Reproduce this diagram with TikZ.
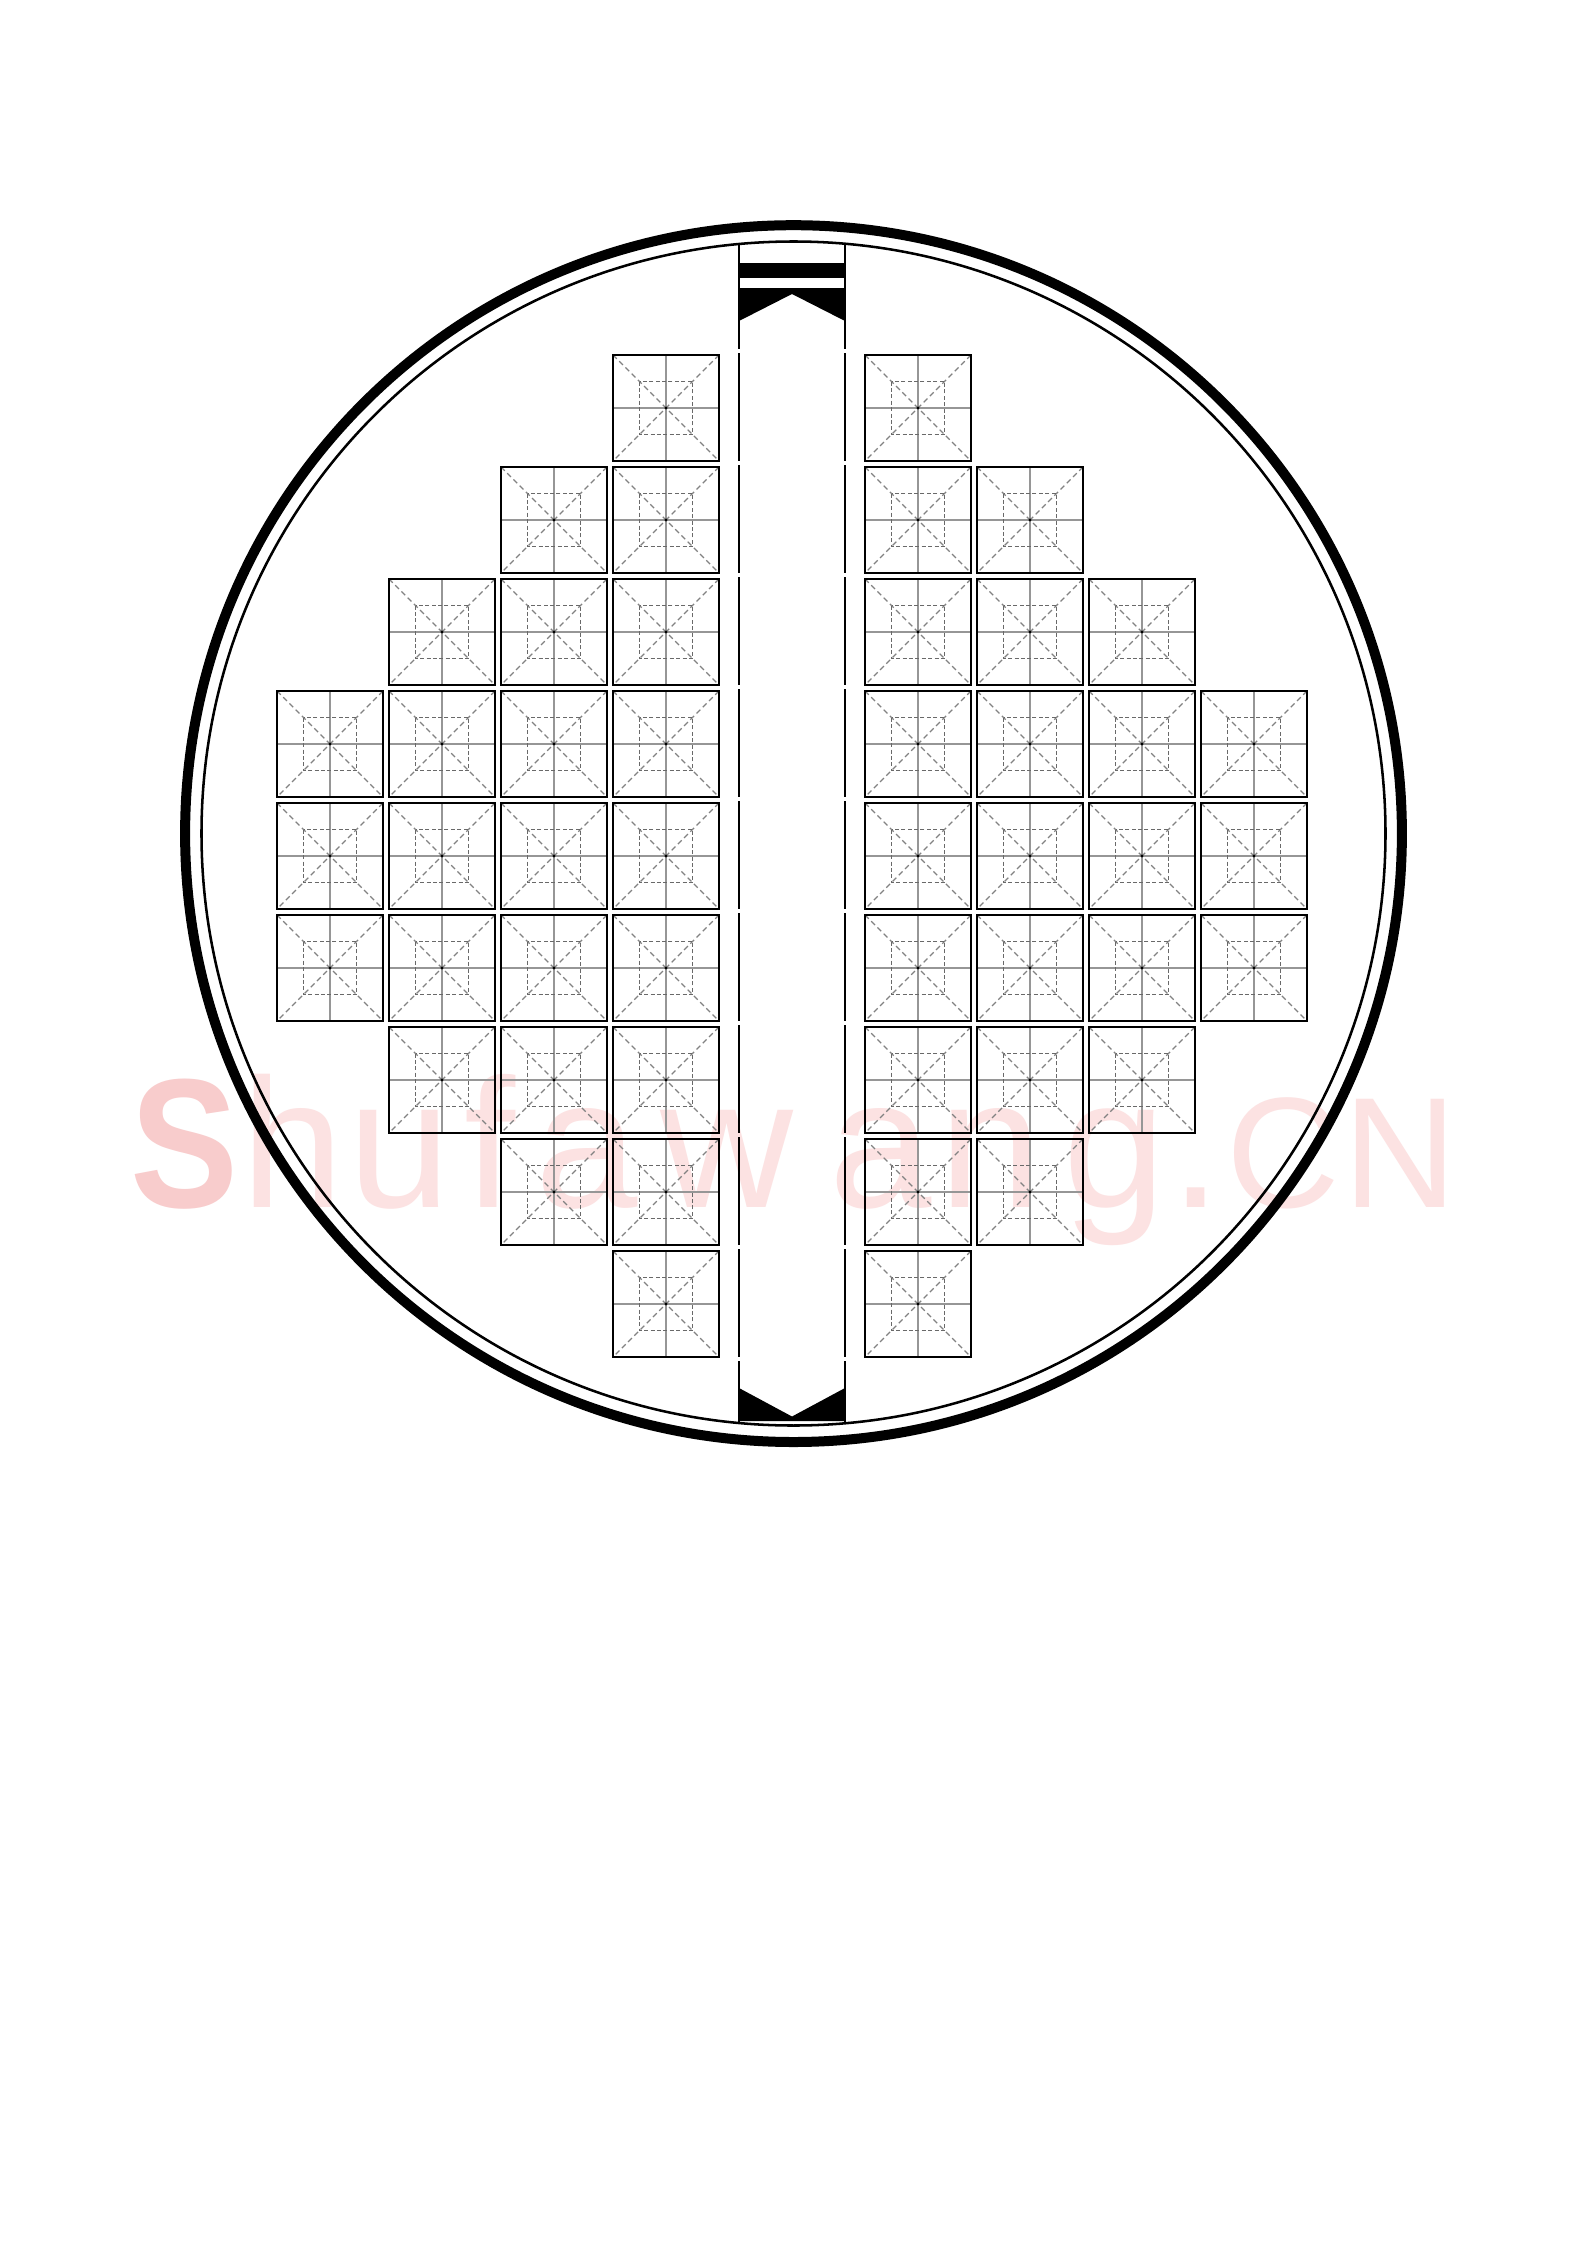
\documentclass[tikz,border=0pt]{standalone}
\usepackage{fontspec}
\usepackage{graphicx}
\newfontfamily\wmfont{Liberation Sans}
\definecolor{wmS}{RGB}{248,204,204}
\definecolor{wmP}{RGB}{252,226,226}
\definecolor{crossgray}{RGB}{150,150,150}
\definecolor{diaggray}{RGB}{130,130,130}
\definecolor{innergray}{RGB}{105,105,105}
\begin{document}
\begin{tikzpicture}[x=0.375pt,y=-0.375pt,
  cellframe/.style={line width=0.75pt,black},
  crossline/.style={line width=0.45pt,crossgray},
  diagline/.style={line width=0.45pt,diaggray,dash pattern=on 2pt off 1.3pt},
  innerline/.style={line width=0.45pt,innergray,dash pattern=on 1.5pt off 0.9pt},
  stripline/.style={line width=0.75pt,black},
  wmletter/.style={inner sep=0pt,anchor=base,font=\wmfont\fontsize{69}{69}\selectfont,text=wmP},
  wmsmall/.style={wmletter,font=\wmfont\fontsize{59}{59}\selectfont},
  mizi/.pic={
    \draw[crossline] (53,0) -- (53,106) (0,53) -- (106,53);
    \draw[diagline] (0,0) -- (106,106) (106,0) -- (0,106);
    \draw[innerline] (26.5,26.5) rectangle (79.5,79.5);
    \fill (53,53) circle[radius=0.6pt];
    \draw[cellframe] (0,0) rectangle (106,106);
  }]
\useasboundingbox (0,0) rectangle (1587,2245);
\fill[white] (0,0) rectangle (1587,2245);
% watermark
\node[wmletter,text=wmS,font=\wmfont\bfseries\fontsize{69}{69}\selectfont] (w1) at (184,1207) {\scalebox{0.88}[1]{S}};
\node[wmletter] (w2) at (293,1207) {h};
\node[wmletter] (w3) at (400,1207) {u};
\node[wmletter] (w4) at (490,1207) {f};
\node[wmletter] (w5) at (587,1207) {a};
\node[wmletter] (w6) at (727,1207) {w};
\node[wmletter] (w7) at (881,1207) {a};
\node[wmletter] (w8) at (991,1207) {n};
\node[wmletter] (w9) at (1115,1207) {g};
\node[wmletter] (w10) at (1196,1207) {.};
\node[wmsmall] (w11) at (1283,1207) {C};
\node[wmsmall] (w12) at (1400,1207) {N};
% circles
\draw[line width=3.75pt] (793.5,833.6) circle[radius=228.15pt];
\draw[line width=0.95pt] (793.5,833.5) circle[radius=222pt];
% central strip
\foreach \xx in {739,845} {
  \draw[stripline] (\xx,244) -- (\xx,349);
  \foreach \kk in {0,...,8} {
    \draw[stripline] (\xx,{353+112*\kk}) -- (\xx,{461+112*\kk});
  }
  \draw[stripline] (\xx,1361) -- (\xx,1423);
}
\fill (739,262.5) rectangle (845,277.5);
\fill (739,288) -- (845,288) -- (845,321) -- (792,294) -- (739,321) -- cycle;
\fill (739,1388) -- (792,1416.5) -- (845,1388) -- (845,1421) -- (739,1421) -- cycle;
% cells
\foreach \rr/\nn in {0/1,1/2,2/3,3/4,4/4,5/4,6/3,7/2,8/1} {
  \foreach \cc in {1,...,\nn} {
    \pgfmathsetmacro\yy{355+112*\rr}
    \pgfmathsetmacro\xl{613-112*(\cc-1)}
    \pgfmathsetmacro\xr{865+112*(\cc-1)}
    \pic at (\xl,\yy) {mizi};
    \pic at (\xr,\yy) {mizi};
  }
}
\end{tikzpicture}
\end{document}
